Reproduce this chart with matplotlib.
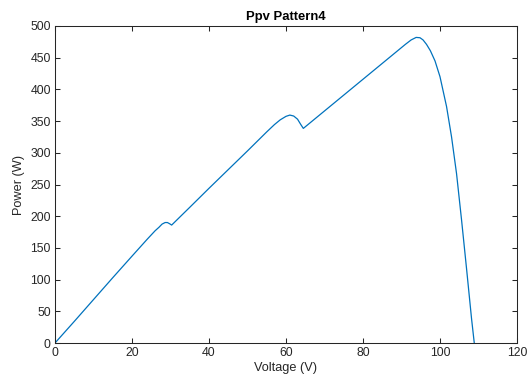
import matplotlib
matplotlib.use("Agg")
import matplotlib.pyplot as plt

voltage = [0, 5, 10, 15, 20, 24, 26, 27, 27.8, 28.6, 29.2, 29.8, 30.3,
           35, 40, 45, 50, 55, 57, 58.5, 60, 61, 62, 63, 63.8, 64.5,
           70, 75, 80, 84, 87, 89, 91, 92.5, 93.8, 94.8, 95.6, 96.5, 97.5, 98.7,
           100, 101.7, 103, 104.3, 105.6, 106.9, 108.2, 108.9]
power = [0, 34, 68.5, 103, 137, 164, 177, 182.5, 187.5, 190, 190, 188, 186,
         214, 244, 273.5, 303, 333, 344.5, 352, 357.5, 359.5, 358, 353, 345, 338.5,
         366, 391, 416, 436, 451, 461, 471, 478, 482, 481.5, 478, 471, 461, 445,
         420, 373, 325, 267, 194, 117, 38, 0]

title = "Ppv Pattern4"
xlabel = "Voltage (V)"
ylabel = "Power (W)"
xticks = [0, 20, 40, 60, 80, 100, 120]
yticks = [0, 50, 100, 150, 200, 250, 300, 350, 400, 450, 500]

plt.rcParams['font.family'] = ['Liberation Sans', 'DejaVu Sans']
fig = plt.figure(figsize=(5.31, 3.80), dpi=100)
ax = fig.add_axes([55/531, 37/380, 462/531, 317/380])
ax.plot(voltage, power, color='#0072BD', lw=0.9)
ax.set_xlim(0, 120)
ax.set_ylim(0, 500)
ax.set_xticks(xticks)
ax.set_yticks(yticks)
dark = '#262626'
for s in ax.spines.values():
    s.set_color(dark)
    s.set_linewidth(0.75)
ax.tick_params(direction='in', length=3.5, width=0.75, colors=dark,
               labelsize=8.8, top=True, right=True, pad=3)
ax.set_xlabel(xlabel, fontsize=9.2, color=dark, labelpad=2)
ax.set_ylabel(ylabel, fontsize=9.2, color=dark, labelpad=4)
ax.set_title(title, fontsize=9.4, fontweight='bold', color='black', pad=4)
fig.savefig('out.png', dpi=100)
